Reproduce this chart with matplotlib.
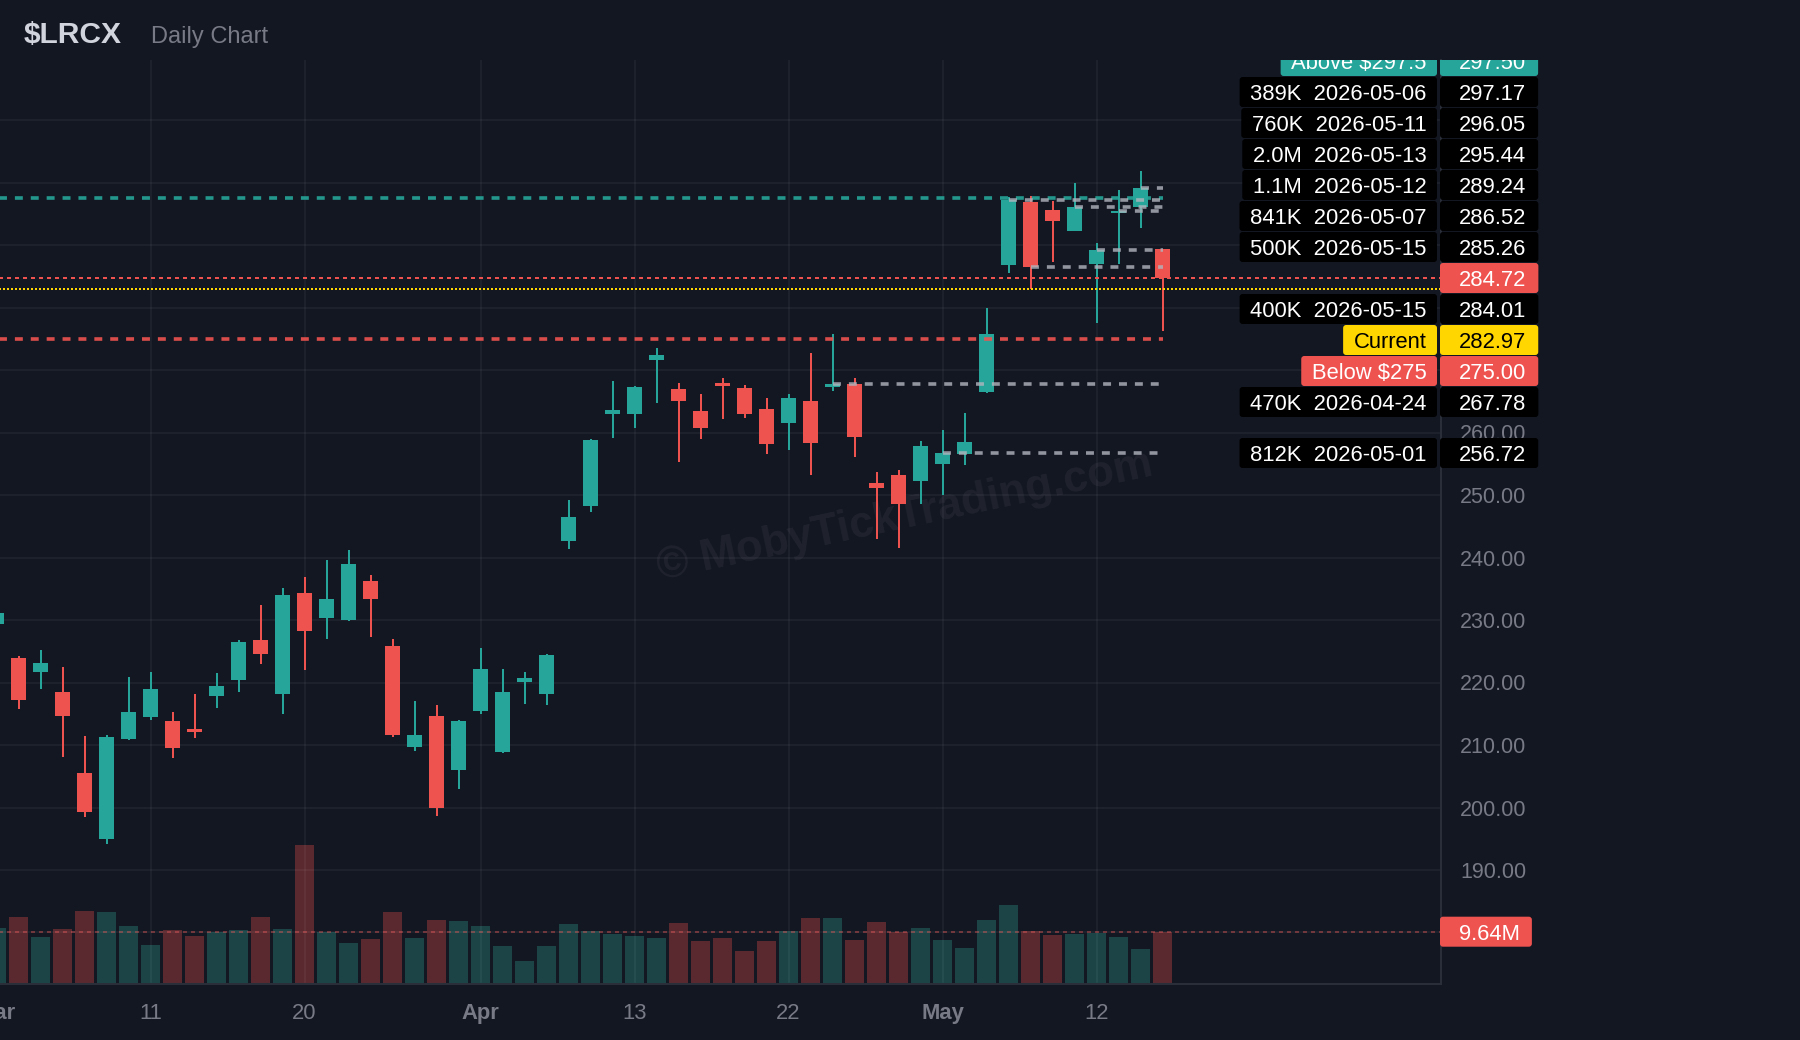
import matplotlib
matplotlib.use("Agg")
import matplotlib.pyplot as plt
from matplotlib.patches import FancyBboxPatch

plt.rcParams['font.family'] = ['Liberation Sans', 'DejaVu Sans']

# ---- data ----
dates = [
    "2026-03-02", "2026-03-03", "2026-03-04", "2026-03-05", "2026-03-06",
    "2026-03-09", "2026-03-10", "2026-03-11", "2026-03-12", "2026-03-13",
    "2026-03-16", "2026-03-17", "2026-03-18", "2026-03-19", "2026-03-20",
    "2026-03-23", "2026-03-24", "2026-03-25", "2026-03-26", "2026-03-27",
    "2026-03-30", "2026-03-31", "2026-04-01", "2026-04-02",
    "2026-04-06", "2026-04-07", "2026-04-08", "2026-04-09", "2026-04-10",
    "2026-04-13", "2026-04-14", "2026-04-15", "2026-04-16", "2026-04-17",
    "2026-04-20", "2026-04-21", "2026-04-22", "2026-04-23", "2026-04-24",
    "2026-04-27", "2026-04-28", "2026-04-29", "2026-04-30", "2026-05-01",
    "2026-05-04", "2026-05-05", "2026-05-06", "2026-05-07", "2026-05-08",
    "2026-05-11", "2026-05-12", "2026-05-13", "2026-05-14", "2026-05-15",
]
opens = [229.30, 223.92, 221.73, 218.48, 205.52, 195.01, 211.01, 214.53, 213.84, 212.56,
         217.89, 220.45, 226.80, 218.21, 234.32, 230.37, 230.05, 236.24, 225.84, 209.68,
         214.64, 206.00, 215.44, 208.93, 220.08, 218.21, 242.69, 248.29, 263.01, 263.01,
         271.65, 266.96, 263.44, 267.92, 267.12, 263.76, 261.57, 265.04, 267.33, 267.76,
         251.92, 253.20, 252.29, 255.01, 256.61, 266.53, 286.85, 296.88, 295.60, 292.29,
         287.01, 295.07, 296.13, 289.36]
highs = [231.60, 224.24, 225.20, 222.48, 211.44, 211.60, 220.88, 221.68, 215.28, 218.16,
         221.52, 226.80, 232.40, 235.12, 236.88, 239.60, 241.20, 237.20, 226.96, 217.04,
         216.40, 214.00, 225.52, 222.16, 221.68, 224.56, 249.20, 258.96, 268.24, 267.44,
         273.52, 267.92, 266.16, 268.72, 267.60, 265.52, 266.16, 272.72, 275.76, 268.72,
         253.68, 254.00, 258.64, 260.40, 263.12, 279.92, 297.68, 297.84, 297.04, 299.92,
         290.32, 298.80, 301.84, 289.40]
lows = [228.90, 215.76, 218.96, 208.13, 198.53, 194.21, 210.80, 214.05, 207.97, 211.17,
        215.97, 218.53, 223.01, 215.01, 222.05, 227.01, 229.90, 227.28, 211.28, 209.04,
        198.69, 202.96, 214.96, 208.77, 216.56, 216.40, 241.36, 247.33, 259.17, 260.77,
        264.77, 255.33, 259.01, 262.21, 262.37, 256.61, 257.25, 253.25, 266.69, 256.13,
        243.01, 241.57, 248.61, 250.05, 254.85, 266.30, 285.57, 283.01, 287.33, 292.20,
        277.57, 287.01, 292.77, 276.24]
closes = [231.17, 217.25, 223.12, 214.69, 199.33, 211.28, 215.28, 218.96, 209.57, 212.13,
          219.44, 226.48, 224.61, 234.00, 228.29, 233.36, 238.96, 233.36, 211.60, 211.60,
          199.97, 213.84, 222.16, 218.48, 220.72, 224.40, 246.48, 258.80, 263.60, 267.28,
          272.40, 265.09, 260.77, 267.49, 263.01, 258.21, 265.52, 258.37, 267.78, 259.33,
          251.17, 248.61, 257.84, 256.72, 258.48, 275.76, 297.17, 286.52, 293.89, 296.05,
          289.24, 295.44, 299.07, 284.72]
volumes_m = [10.30, 12.35, 8.66, 10.14, 13.46, 13.27, 10.69, 7.19, 9.95, 8.85,
             9.59, 9.95, 12.35, 10.14, 25.62, 9.59, 7.56, 8.29, 13.27, 8.48,
             11.80, 11.61, 10.69, 7.00, 4.24, 7.00, 11.06, 9.77, 9.22, 8.85,
             8.48, 11.24, 7.93, 8.48, 6.08, 7.93, 9.77, 12.17, 12.17, 8.11,
             11.43, 9.59, 10.32, 8.11, 6.64, 11.80, 14.56, 9.77, 9.03, 9.22,
             9.40, 8.66, 6.45, 9.59]
avg_volume_m = 9.64

tick_dates = ["2026-03-02", "2026-03-11", "2026-03-20", "2026-04-01",
              "2026-04-13", "2026-04-22", "2026-05-01", "2026-05-12"]
tick_labels = ["Mar", "11", "20", "Apr", "13", "22", "May", "12"]
month_names = ["Mar", "Apr", "May"]
price_ticks = list(range(180, 320, 10))

# high-volume price levels (gray dashed lines)
level_dates = ["2026-05-14", "2026-05-06", "2026-05-11", "2026-05-13", "2026-05-12",
               "2026-05-07", "2026-05-15", "2026-05-15", "2026-04-24", "2026-05-01"]
level_prices = [299.07, 297.17, 296.05, 295.44, 289.24, 286.52, 285.26, 284.01, 267.78, 256.72]
level_volumes = [None, 389e3, 760e3, 2.0e6, 1.1e6, 841e3, 500e3, 400e3, 470e3, 812e3]

alert_above = 297.5
alert_below = 275.0
current_price = 282.97
last_close = closes[-1]

# ---- style ----
BG = '#131722'
UP = '#26a69a'
DOWN = '#ef5350'
UP_VOL = '#1c4447'
DOWN_VOL = '#5a2930'
YELLOW = '#ffd600'
AXIS_TXT = '#787b86'
SPINE = '#2a2e39'
LEVEL_GRAY = '#b2b5be'
FS = 15.8

W, H = 1800, 1040
PL, PR, PT, PB = -40, 1441, 60, 984   # plot area in pixels (top-down)

fig = plt.figure(figsize=(W / 100, H / 100), dpi=100, facecolor=BG)
rect = [PL / W, (H - PB) / H, (PR - PL) / W, (PB - PT) / H]
ax_vol = fig.add_axes(rect, facecolor=BG)
ax = fig.add_axes(rect, facecolor='none')

x = list(range(len(dates)))
xlim = ((PL + 3.5) / 22.0, (PR + 3.5) / 22.0)
ylim = (171.76, 319.6)

# volume pane
vol_colors = [UP_VOL if c >= o else DOWN_VOL for o, c in zip(opens, closes)]
ax_vol.bar(x, volumes_m, width=0.9, color=vol_colors, zorder=1)
ax_vol.axhline(avg_volume_m, color=DOWN, alpha=0.4, lw=1.44, dashes=(2, 2), zorder=2)
ax_vol.set_xlim(xlim)
ax_vol.set_ylim(0, 170.3)
ax_vol.set_xticks([])
ax_vol.set_yticks([])
for s in ax_vol.spines.values():
    s.set_visible(False)

# watermark
ax_vol.text(0.503, 0.503, "© MobyTickTrading.com", transform=fig.transFigure,
            ha='center', va='center', rotation=12, fontsize=31.5, fontweight='bold',
            color='white', alpha=0.055, zorder=0)

# candles
cols = [UP if c >= o else DOWN for o, c in zip(opens, closes)]
ax.vlines(x, lows, highs, colors=cols, lw=1.44, zorder=2)
bottoms = [min(o, c) for o, c in zip(opens, closes)]
heights = [max(abs(c - o), 0.2) for o, c in zip(opens, closes)]
ax.bar(x, heights, bottom=bottoms, width=0.72, color=cols, zorder=3)

# level lines
last_idx = len(dates) - 1
for d, p in zip(level_dates, level_prices):
    i0 = dates.index(d)
    ax.plot([i0, last_idx], [p, p], color=LEVEL_GRAY, alpha=0.8, lw=2.6,
            dashes=(2.2, 2.2), solid_capstyle='butt', zorder=5)

ax.plot([xlim[0], last_idx], [alert_above] * 2, color=UP, alpha=0.9, lw=2.6,
        dashes=(2.2, 2.2), zorder=4)
ax.plot([xlim[0], last_idx], [alert_below] * 2, color=DOWN, alpha=0.9, lw=2.6,
        dashes=(2.2, 2.2), zorder=4)
ax.axhline(last_close, color=DOWN, lw=1.44, dashes=(2, 2), zorder=4)
ax.axhline(current_price, color=YELLOW, lw=1.44, dashes=(1, 1), zorder=4)

ax.set_xlim(xlim)
ax.set_ylim(ylim)
ax.set_axisbelow(True)
ax.grid(True, color='white', alpha=0.05, lw=1.2)

ax.set_xticks([dates.index(d) for d in tick_dates], tick_labels)
ax.tick_params(axis='x', length=0, pad=14, labelsize=15.8, labelcolor=AXIS_TXT)
for t in ax.get_xticklabels():
    if t.get_text() in month_names:
        t.set_fontweight('bold')

# the 180 label sits under the volume-average tag, so it stays blank
ax.yaxis.tick_right()
ax.set_yticks(price_ticks, ["" if p == 180 else f"{p:.2f}" for p in price_ticks])
ax.tick_params(axis='y', length=0, pad=61.2, labelsize=15.5, labelcolor=AXIS_TXT)
plt.setp(ax.get_yticklabels(), ha='right')

for side in ['left', 'top']:
    ax.spines[side].set_visible(False)
for side in ['right', 'bottom']:
    ax.spines[side].set_color(SPINE)
    ax.spines[side].set_linewidth(1.5)

# title
fig.text(23.7 / W, 1 - 42.7 / H, "$LRCX", fontsize=21.6, fontweight='bold',
         color='#d1d4dc', va='baseline')
fig.text(151 / W, 1 - 42.7 / H, "Daily Chart", fontsize=17, color=AXIS_TXT, va='baseline')

# ---- right-hand price labels ----
ax_lab = fig.add_axes([0, 0, 1, (H - PT) / H])
ax_lab.set_xlim(0, W)
ax_lab.set_ylim(0, H - PT)
ax_lab.set_axis_off()
renderer = fig.canvas.get_renderer()


def fmt_vol(v):
    return f"{v / 1e6:.1f}M" if v >= 1e6 else f"{v / 1e3:.0f}K"


labels = []
for d, p, v in zip(level_dates, level_prices, level_volumes):
    if v is None:
        continue
    labels.append(dict(price=p, text=f"{fmt_vol(v)}  {d}", box='black', fg='white'))
labels.append(dict(price=alert_above, text=f"Above ${alert_above:g}", box=UP, fg='white'))
labels.append(dict(price=alert_below, text=f"Below ${alert_below:g}", box=DOWN, fg='white'))
labels.append(dict(price=current_price, text="Current", box=YELLOW, fg='black'))
labels.append(dict(price=last_close, text=None, box=DOWN, fg='white', anchor=True))
labels.sort(key=lambda d: -d['price'])

STEP, HALF = 31, 15
ys = [ax.transData.transform((0, d['price']))[1] for d in labels]
k = [i for i, d in enumerate(labels) if d.get('anchor')][0]
pos = list(ys)
for i in range(k - 1, -1, -1):
    pos[i] = max(ys[i], pos[i + 1] + STEP)
for i in range(k + 1, len(labels)):
    pos[i] = min(ys[i], pos[i - 1] - STEP)


def box(x0, x1, yc, color):
    ax_lab.add_patch(FancyBboxPatch((x0, yc - HALF), x1 - x0, 2 * HALF,
                                    boxstyle="round,pad=0,rounding_size=3",
                                    fc=color, ec='none', zorder=5))


def price_tag(yc, txt, color, fg):
    t = ax_lab.text(1459, yc - 8, txt, ha='left', va='baseline', fontsize=FS,
                    color=fg, zorder=6, clip_on=True)
    w = t.get_window_extent(renderer=renderer).width
    box(1440, 1459 + w + 12, yc, color)


for d, yc in zip(labels, pos):
    price_tag(yc, f"{d['price']:.2f}", d['box'], d['fg'])
    if d['text']:
        t = ax_lab.text(1426.5, yc - 8, d['text'], ha='right', va='baseline',
                        fontsize=FS, color=d['fg'], zorder=6, clip_on=True)
        w = t.get_window_extent(renderer=renderer).width
        box(1426.5 - w - 10.5, 1437, yc, d['box'])

# average volume tag
yv = ax_vol.transData.transform((0, avg_volume_m))[1]
price_tag(yv, f"{avg_volume_m:.2f}M", DOWN, 'white')

fig.savefig("out.png", dpi=100, facecolor=BG)
